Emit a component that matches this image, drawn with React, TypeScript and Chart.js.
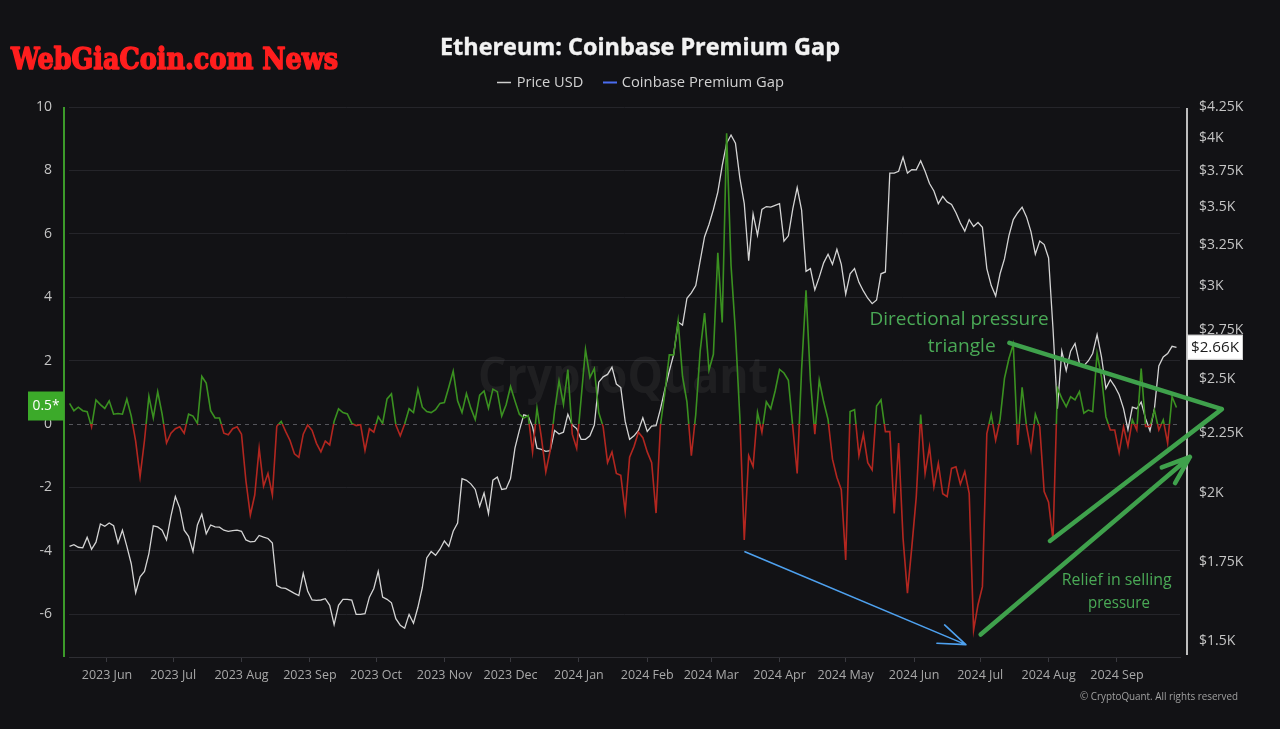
import React, { useEffect, useRef } from 'react';
import { Chart, registerables } from 'chart.js';

Chart.register(...registerables);

// ---------- data ----------
const START_DATE = '2023-05-15';
const STEP_DAYS = 2;

const priceUsd: number[] = [
  1804, 1810, 1801, 1799, 1836, 1794, 1819, 1885, 1876, 1888,
  1878, 1816, 1862, 1804, 1744, 1648, 1700, 1718, 1779, 1878,
  1874, 1862, 1827, 1914, 1988, 1944, 1862, 1840, 1786, 1881,
  1921, 1849, 1881, 1874, 1873, 1862, 1858, 1860, 1862, 1858,
  1827, 1820, 1822, 1843, 1837, 1832, 1816, 1671, 1664, 1662,
  1654, 1646, 1639, 1712, 1654, 1625, 1624, 1625, 1629, 1608,
  1549, 1608, 1627, 1627, 1625, 1580, 1580, 1582, 1634, 1662,
  1718, 1634, 1627, 1616, 1567, 1547, 1538, 1580, 1553, 1602,
  1665, 1764, 1786, 1773, 1794, 1823, 1804, 1858, 1888, 2059,
  2052, 2038, 2016, 1950, 2002, 1923, 2053, 2065, 2016, 2019,
  2059, 2185, 2262, 2332, 2326, 2278, 2185, 2180, 2171, 2174,
  2262, 2246, 2254, 2334, 2286, 2270, 2223, 2223, 2238, 2286,
  2485, 2511, 2523, 2559, 2476, 2459, 2302, 2223, 2238, 2262,
  2318, 2257, 2281, 2283, 2359, 2451, 2539, 2624, 2794, 2778,
  2927, 2958, 3000, 3148, 3300, 3380, 3480, 3600, 3790, 3960,
  4024, 3960, 3700, 3520, 3149, 3450, 3310, 3480, 3500, 3496,
  3508, 3520, 3272, 3306, 3484, 3632, 3476, 3085, 3101, 2975,
  3050, 3136, 3189, 3127, 3220, 3127, 2951, 3070, 3101, 3019,
  2969, 2927, 2896, 2917, 3070, 3081, 3736, 3736, 3749, 3853,
  3736, 3762, 3760, 3827, 3749, 3661, 3608, 3520, 3570, 3532,
  3515, 3458, 3389, 3336, 3412, 3366, 3393, 3361, 3101, 3000,
  2940, 3070, 3160, 3306, 3412, 3458, 3496, 3430, 3333, 3190,
  3272, 3250, 3166, 2759, 2360, 2640, 2542, 2640, 2680, 2578,
  2566, 2590, 2628, 2727, 2610, 2455, 2497, 2465, 2425, 2360,
  2265, 2367, 2360, 2390, 2314, 2260, 2360, 2565, 2610, 2628,
  2665, 2660,
];

const premiumGap: number[] = [
  0.65, 0.42, 0.53, 0.42, 0.39, -0.09, 0.76, 0.61, 0.49, 0.73,
  0.31, 0.33, 0.31, 0.79, 0.25, -0.54, -1.66, -0.52, 0.87, 0.19,
  1.02, 0.31, -0.6, -0.29, -0.15, -0.09, -0.29, 0.31, 0.25, 0.02,
  1.5, 1.29, 0.42, 0.19, 0.19, -0.29, -0.34, -0.15, -0.09, -0.32,
  -1.79, -2.87, -2.24, -0.77, -1.96, -1.56, -2.24, -0.07, 0.08, -0.23,
  -0.52, -0.94, -1.05, -0.32, -0.03, -0.2, -0.61, -0.88, -0.54, -0.66,
  0.08, 0.48, 0.36, 0.32, 0.02, -0.05, -0.02, -0.83, -0.15, -0.26,
  0.23, 0.02, 0.79, 0.95, -0.03, -0.37, 0.0, 0.48, 0.36, 1.1,
  0.53, 0.39, 0.36, 0.45, 0.65, 0.68, 1.16, 1.67, 0.73, 0.36,
  0.96, 0.5, 0.14, 0.91, 1.04, 0.5, 1.1, 1.02, 0.25, 0.61,
  1.18, 0.73, 0.31, 0.19, 0.27, -0.88, 0.5, -0.43, -1.51, -0.83,
  0.42, 1.36, 0.62, 1.72, -0.32, -0.77, 0.79, 2.35, 1.47, 1.75,
  0.36, -0.09, -1.22, -0.88, -1.56, -1.62, -2.76, -1.05, -0.71, -0.26,
  -0.43, -0.88, -1.22, -2.81, -0.03, 0.99, 2.18, 2.18, 3.25, 1.5,
  0.7, -1.0, 0.3, 2.3, 3.5, 1.7, 2.2, 5.4, 3.2, 9.17,
  5.0, 2.9, 0.2, -3.66, -1.0, -1.34, 0.36, -0.26, 0.7, 0.48,
  1.04, 1.72, 1.61, 1.38, -0.09, -1.56, 1.72, 4.22, 1.38, -0.32,
  1.38, 0.7, 0.14, -1.11, -1.68, -2.07, -4.29, 0.39, 0.45, -1.0,
  -0.32, -1.22, -1.45, 0.57, 0.76, -0.24, -0.24, -2.82, -0.6, -3.6,
  -5.34, -3.87, -2.3, 0.3, -1.56, -0.72, -1.98, -1.24, -2.2, -2.29,
  -1.4, -1.35, -1.9, -1.5, -2.19, -6.5, -5.7, -5.13, -0.3, 0.3,
  -0.51, 0.14, 1.44, 2.06, 2.52, -0.66, 1.16, -0.07, -0.83, 0.31,
  -0.09, -2.13, -2.47, -3.66, 1.13, 0.81, 0.55, 0.86, 0.76, 1.02,
  0.34, 0.44, 0.39, 2.23, 1.49, 0.23, -0.19, -0.19, -0.9, -0.08,
  -0.7, 0.13, -0.19, 1.75, -0.08, -0.08, 0.44, -0.19, 0.13, -0.6,
  0.86, 0.52,
];

const monthTickDates = [
  '2023-06-01', '2023-07-01', '2023-08-01', '2023-09-01', '2023-10-01', '2023-11-01',
  '2023-12-01', '2024-01-01', '2024-02-01', '2024-03-01', '2024-04-01', '2024-05-01',
  '2024-06-01', '2024-07-01', '2024-08-01', '2024-09-01',
];
const monthTickLabels = [
  '2023 Jun', '2023 Jul', '2023 Aug', '2023 Sep', '2023 Oct', '2023 Nov',
  '2023 Dec', '2024 Jan', '2024 Feb', '2024 Mar', '2024 Apr', '2024 May',
  '2024 Jun', '2024 Jul', '2024 Aug', '2024 Sep',
];
const gapTicks = [-6, -4, -2, 0, 2, 4, 6, 8, 10];
const priceTicks = [1500, 1750, 2000, 2250, 2500, 2750, 3000, 3250, 3500, 3750, 4000, 4250];
const priceTickLabels = ['$1.5K', '$1.75K', '$2K', '$2.25K', '$2.5K', '$2.75K', '$3K', '$3.25K', '$3.5K', '$3.75K', '$4K', '$4.25K'];

// ---------- styling ----------
const BG = '#121215';
const GREEN = '#3a9120';
const RED = '#b3261f';
const ANNO_GREEN = '#3fa14c';
const TEXT_GREEN = '#4aa956';
const BLUE = '#4ea1ef';
const FONT = '"Open Sans", "Noto Sans", sans-serif';

const DAY_MS = 86400000;
const dayOf = (s: string) => (Date.parse(s) - Date.parse(START_DATE)) / DAY_MS;
const monthDays = monthTickDates.map(dayOf);

// annotation anchors in data units [day, gap value]
const blueArrow = { from: [306.3, -4.03], to: [406.5, -6.96] };
const triTop = { from: [426.2, 2.56], to: [522.6, 0.47] };
const triBottom = { from: [444.6, -3.69], to: [522.6, 0.47] };
const reliefArrow = { from: [413.2, -6.64], to: [508.1, -1.04] };

function fitText(
  c: CanvasRenderingContext2D, text: string, x: number, y: number, size: number,
  weight: string, family: string, targetW: number, align: CanvasTextAlign,
  baseline: CanvasTextBaseline, color: string, strokeW = 0,
) {
  c.save();
  c.font = `${weight} ${size}px ${family}`;
  const w = c.measureText(text).width || 1;
  c.translate(x, y);
  c.scale(targetW / w, 1);
  c.fillStyle = color;
  c.textAlign = align;
  c.textBaseline = baseline;
  c.fillText(text, 0, 0);
  if (strokeW > 0) {
    c.strokeStyle = color;
    c.lineWidth = strokeW;
    c.lineJoin = 'round';
    c.strokeText(text, 0, 0);
  }
  c.restore();
}

function arrowHead(c: CanvasRenderingContext2D, fx: number, fy: number, tx: number, ty: number, len: number, spreadDeg: number) {
  const ang = Math.atan2(fy - ty, fx - tx);
  const s = (spreadDeg * Math.PI) / 180;
  for (const a of [ang - s, ang + s]) {
    c.moveTo(tx, ty);
    c.lineTo(tx + len * Math.cos(a), ty + len * Math.sin(a));
  }
}

const overlayPlugin = {
  id: 'overlay',
  beforeDraw(chart: any) {
    const c = chart.ctx as CanvasRenderingContext2D;
    c.save();
    c.fillStyle = BG;
    c.fillRect(0, 0, chart.width, chart.height);
    c.restore();
  },
  beforeDatasetsDraw(chart: any) {
    const c = chart.ctx as CanvasRenderingContext2D;
    const { chartArea, scales } = chart;
    // watermark
    fitText(c, 'CryptoQuant', 623, 393, 50, 'bold', FONT, 290, 'center', 'alphabetic', 'rgba(255,255,255,0.055)');
    // dashed zero line
    const y0 = scales.y.getPixelForValue(0);
    c.save();
    c.strokeStyle = '#55555b';
    c.lineWidth = 1;
    c.setLineDash([4, 4]);
    c.beginPath();
    c.moveTo(chartArea.left, Math.round(y0) + 0.5);
    c.lineTo(chartArea.right, Math.round(y0) + 0.5);
    c.stroke();
    c.restore();
  },
  afterDraw(chart: any) {
    const c = chart.ctx as CanvasRenderingContext2D;
    const { chartArea, scales } = chart;
    const px = (d: number) => scales.x.getPixelForValue(d);
    const py = (v: number) => scales.y.getPixelForValue(v);

    // axis lines
    c.save();
    c.fillStyle = '#3c9a2a';
    c.fillRect(63, chartArea.top, 2, chartArea.bottom - chartArea.top);
    c.fillStyle = '#bdbdbd';
    c.fillRect(1186, chartArea.top + 1, 2, chartArea.bottom - chartArea.top - 3);
    c.restore();

    // blue arrow
    c.save();
    c.strokeStyle = BLUE;
    c.lineWidth = 1.6;
    c.lineCap = 'round';
    c.beginPath();
    const bx0 = px(blueArrow.from[0]), by0 = py(blueArrow.from[1]);
    const bx1 = px(blueArrow.to[0]), by1 = py(blueArrow.to[1]);
    c.moveTo(bx0, by0);
    c.lineTo(bx1, by1);
    arrowHead(c, bx0, by0, bx1, by1, 29, 20);
    c.stroke();
    c.restore();

    // green triangle + relief arrow
    c.save();
    c.strokeStyle = ANNO_GREEN;
    c.lineWidth = 4.5;
    c.lineCap = 'round';
    c.lineJoin = 'round';
    c.beginPath();
    c.moveTo(px(triTop.from[0]), py(triTop.from[1]));
    c.lineTo(px(triTop.to[0]), py(triTop.to[1]));
    c.moveTo(px(triBottom.from[0]), py(triBottom.from[1]));
    c.lineTo(px(triBottom.to[0]), py(triBottom.to[1]));
    const gx0 = px(reliefArrow.from[0]), gy0 = py(reliefArrow.from[1]);
    const gx1 = px(reliefArrow.to[0]), gy1 = py(reliefArrow.to[1]);
    c.moveTo(gx0, gy0);
    c.lineTo(gx1, gy1);
    arrowHead(c, gx0, gy0, gx1, gy1, 30, 20);
    c.stroke();
    c.restore();

    // annotation texts
    fitText(c, 'Directional pressure', px(403.4), py(3.29), 19, 'normal', FONT, 179, 'center', 'middle', TEXT_GREEN);
    fitText(c, 'triangle', px(404.6), py(2.43), 19, 'normal', FONT, 68, 'center', 'middle', TEXT_GREEN);
    fitText(c, 'Relief in selling', px(474.9), py(-4.93), 16.5, 'normal', FONT, 110, 'center', 'middle', TEXT_GREEN);
    fitText(c, 'pressure', px(475.9), py(-5.67), 16.5, 'normal', FONT, 62, 'center', 'middle', TEXT_GREEN);

    // last value labels
    const lastPrice = priceUsd[priceUsd.length - 1];
    const lastGap = premiumGap[premiumGap.length - 1];
    const ppy = scales.yPrice.getPixelForValue(lastPrice);
    c.save();
    c.fillStyle = '#ffffff';
    c.fillRect(1187, ppy - 12.5, 56, 25);
    c.strokeStyle = '#d0d0d0';
    c.lineWidth = 1;
    c.strokeRect(1187.5, ppy - 12, 55, 24);
    c.restore();
    fitText(c, '$' + (lastPrice / 1000).toFixed(2) + 'K', 1215, ppy + 0.5, 14, 'normal', FONT, 48, 'center', 'middle', '#1b1b1b');

    const gpy = py(lastGap);
    c.save();
    c.fillStyle = '#3caa2a';
    c.fillRect(28, gpy - 16, 36, 29);
    c.restore();
    fitText(c, lastGap.toFixed(1) + '*', 46, gpy - 1.5, 14, 'normal', FONT, 27, 'center', 'middle', '#ffffff');

    // title
    fitText(c, 'Ethereum: Coinbase Premium Gap', 640, 48, 23, 'bold', FONT, 400, 'center', 'middle', '#f2f2f2', 0.4);

    // legend
    c.save();
    c.lineWidth = 1.5;
    c.strokeStyle = '#cfcfcf';
    c.beginPath();
    c.moveTo(497, 82.5);
    c.lineTo(511, 82.5);
    c.stroke();
    c.lineWidth = 2;
    c.strokeStyle = '#4a6cf0';
    c.beginPath();
    c.moveTo(603, 82.5);
    c.lineTo(617, 82.5);
    c.stroke();
    c.restore();
    fitText(c, 'Price USD', 516.7, 82.5, 14.5, 'normal', FONT, 66.6, 'left', 'middle', '#d2d2d2');
    fitText(c, 'Coinbase Premium Gap', 621.7, 82.5, 14.5, 'normal', FONT, 162.3, 'left', 'middle', '#d2d2d2');

    // site brand
    fitText(c, 'WebGiaCoin.com News', 11, 69.3, 30, 'bold', '"DejaVu Serif", serif', 327, 'left', 'alphabetic', '#ff1e1e', 1.6);

    // copyright
    fitText(c, '\u00a9 CryptoQuant. All rights reserved', 1159, 697, 11.5, 'normal', FONT, 158, 'center', 'middle', '#a0a0a0');
  },
};

export default function App() {
  const ref = useRef<HTMLCanvasElement>(null);

  useEffect(() => {
    document.body.style.margin = '0';
    document.body.style.background = BG;
    const canvas = ref.current;
    if (!canvas) return;

    const days = priceUsd.map((_, i) => i * STEP_DAYS);

    const gapColor = (ctx: any) => {
      const chart = ctx.chart;
      const { chartArea, scales } = chart;
      if (!chartArea || !scales.y) return GREEN;
      const y0 = scales.y.getPixelForValue(0);
      const g = chart.ctx.createLinearGradient(0, chartArea.top, 0, chartArea.bottom);
      const stop = Math.min(Math.max((y0 - chartArea.top) / (chartArea.bottom - chartArea.top), 0), 1);
      g.addColorStop(0, GREEN);
      g.addColorStop(stop, GREEN);
      g.addColorStop(stop, RED);
      g.addColorStop(1, RED);
      return g;
    };

    const chart = new Chart(canvas, {
      type: 'line',
      data: {
        datasets: [
          {
            label: 'Coinbase Premium Gap',
            data: premiumGap.map((v, i) => ({ x: days[i], y: v })),
            yAxisID: 'y',
            borderColor: gapColor,
            borderWidth: 1.6,
            pointRadius: 0,
            tension: 0,
            order: 0,
          },
          {
            label: 'Price USD',
            data: priceUsd.map((v, i) => ({ x: days[i], y: v })),
            yAxisID: 'yPrice',
            borderColor: '#d4d4d4',
            borderWidth: 1.3,
            pointRadius: 0,
            tension: 0,
            order: 1,
          },
        ],
      },
      options: {
        animation: false,
        responsive: false,
        maintainAspectRatio: false,
        devicePixelRatio: 1,
        events: [],
        layout: { padding: { top: 107, left: 0, right: 0, bottom: 0 } },
        plugins: {
          legend: { display: false },
          title: { display: false },
          tooltip: { enabled: false },
        },
        scales: {
          x: {
            type: 'linear',
            min: -0.23,
            max: 503.6,
            afterBuildTicks: (s: any) => {
              s.ticks = monthDays.map((v) => ({ value: v }));
            },
            afterFit: (s: any) => {
              s.height = 72;
            },
            ticks: {
              autoSkip: false,
              maxRotation: 0,
              minRotation: 0,
              padding: 6,
              color: '#a8a8a8',
              font: { family: FONT, size: 12.5 },
              callback: (_v: any, i: number) => monthTickLabels[i],
            },
            grid: { drawOnChartArea: false, drawTicks: true, tickLength: 5, tickColor: '#3a3a40', tickWidth: 1 },
            border: { display: true, color: '#2e2e33', width: 1 },
          },
          y: {
            type: 'linear',
            position: 'left',
            min: -7.35,
            max: 10,
            afterBuildTicks: (s: any) => {
              s.ticks = gapTicks.map((v) => ({ value: v }));
            },
            afterFit: (s: any) => {
              s.width = 69;
            },
            ticks: {
              autoSkip: false,
              padding: 17,
              color: '#c4c4c4',
              font: { family: FONT, size: 14 },
              callback: (v: any) => String(v),
            },
            grid: {
              drawTicks: false,
              lineWidth: 1,
              color: (ctx: any) => (ctx.tick && ctx.tick.value === 0 ? 'rgba(0,0,0,0)' : '#25252a'),
            },
            border: { display: false },
          },
          yPrice: {
            type: 'logarithmic',
            position: 'right',
            min: 1454,
            max: 4250,
            afterBuildTicks: (s: any) => {
              s.ticks = priceTicks.map((v) => ({ value: v }));
            },
            afterFit: (s: any) => {
              s.width = 100;
            },
            ticks: {
              autoSkip: false,
              padding: 19,
              color: '#c4c4c4',
              font: { family: FONT, size: 14 },
              callback: (_v: any, i: number) => priceTickLabels[i],
            },
            grid: { drawOnChartArea: false, drawTicks: false },
            border: { display: false },
          },
        },
      } as any,
      plugins: [overlayPlugin],
    });

    return () => chart.destroy();
  }, []);

  return (
    <div style={{ width: 1280, height: 729, background: BG }}>
      <canvas ref={ref} width={1280} height={729} style={{ display: 'block', width: 1280, height: 729 }} />
    </div>
  );
}
